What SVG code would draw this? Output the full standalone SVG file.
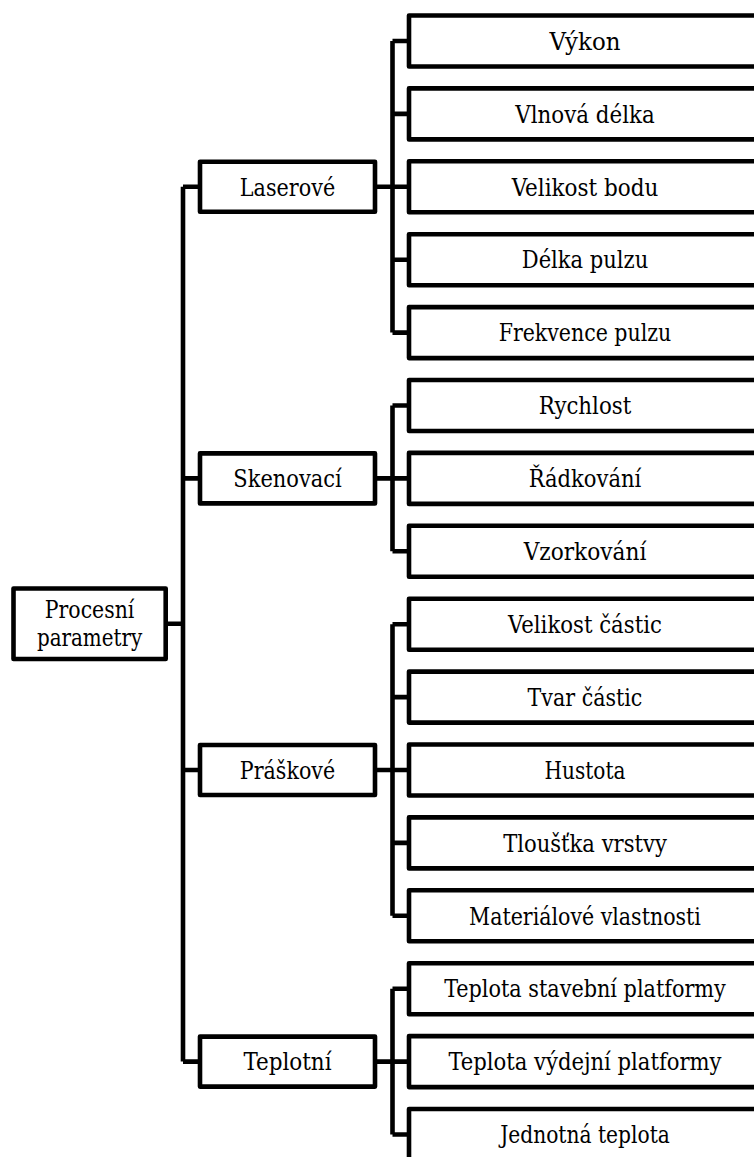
<svg xmlns="http://www.w3.org/2000/svg" width="754" height="1157" viewBox="0 0 754 1157">
<style>
.box{fill:#fff;stroke:#000;stroke-width:4.6;stroke-linejoin:round}
.con{fill:none;stroke:#000;stroke-width:4.6;stroke-linejoin:miter;stroke-linecap:butt}
.t{font-family:'DejaVu Serif Condensed','DejaVu Serif','Liberation Serif',serif;font-stretch:condensed;font-size:24px;fill:#000;text-anchor:middle}
</style>
<rect width="754" height="1157" fill="#fff"/>
<g id="connectors">
<path class="con" d="M165.7,623.7H183M183,186.8V1061.6M183,186.8H200M183,478.4H200M183,770H200M183,1061.6H200"/>
<path class="con" d="M375,186.8H392.5M392.5,41V332.6M392.5,41H409M392.5,113.9H409M392.5,186.8H409M392.5,259.7H409M392.5,332.6H409"/>
<path class="con" d="M375,478.4H392.5M392.5,405.5V551.3M392.5,405.5H409M392.5,478.4H409M392.5,551.3H409"/>
<path class="con" d="M375,770H392.5M392.5,624.2V915.8M392.5,624.2H409M392.5,697.1H409M392.5,770H409M392.5,842.9H409M392.5,915.8H409"/>
<path class="con" d="M375,1061.6H392.5M392.5,988.7V1134.5M392.5,988.7H409M392.5,1061.6H409M392.5,1134.5H409"/>
</g>
<g id="root"><rect class="box" x="13.5" y="588.5" width="152.2" height="70.5"/><text class="t" x="89.6" y="617.7" textLength="89.5" lengthAdjust="spacingAndGlyphs">Procesní</text><text class="t" x="89.6" y="645.5" textLength="105.4" lengthAdjust="spacingAndGlyphs">parametry</text></g>
<g id="laserove"><rect class="box" x="200" y="161.8" width="175" height="50"/><text class="t" x="287.5" y="195.5" textLength="95.3" lengthAdjust="spacingAndGlyphs">Laserové</text></g>
<g id="skenovaci"><rect class="box" x="200" y="453.4" width="175" height="50"/><text class="t" x="287.5" y="487.1" textLength="108.3" lengthAdjust="spacingAndGlyphs">Skenovací</text></g>
<g id="praskove"><rect class="box" x="200" y="745" width="175" height="50"/><text class="t" x="287.5" y="778.7" textLength="95.3" lengthAdjust="spacingAndGlyphs">Práškové</text></g>
<g id="teplotni"><rect class="box" x="200" y="1036.6" width="175" height="50"/><text class="t" x="287.5" y="1070.3" textLength="88.1" lengthAdjust="spacingAndGlyphs">Teplotní</text></g>
<g id="vykon"><rect class="box" x="409" y="15.5" width="360" height="51"/><text class="t" x="585" y="49.7" textLength="70.8" lengthAdjust="spacingAndGlyphs">Výkon</text></g>
<g id="vlnova"><rect class="box" x="409" y="88.4" width="360" height="51"/><text class="t" x="585" y="122.6" textLength="139.4" lengthAdjust="spacingAndGlyphs">Vlnová délka</text></g>
<g id="velikost-bodu"><rect class="box" x="409" y="161.3" width="360" height="51"/><text class="t" x="585" y="195.5" textLength="146.6" lengthAdjust="spacingAndGlyphs">Velikost bodu</text></g>
<g id="delka-pulzu"><rect class="box" x="409" y="234.2" width="360" height="51"/><text class="t" x="585" y="268.4" textLength="126.4" lengthAdjust="spacingAndGlyphs">Délka pulzu</text></g>
<g id="frekvence"><rect class="box" x="409" y="307.1" width="360" height="51"/><text class="t" x="585" y="341.3" textLength="172.6" lengthAdjust="spacingAndGlyphs">Frekvence pulzu</text></g>
<g id="rychlost"><rect class="box" x="409" y="380" width="360" height="51"/><text class="t" x="585" y="414.2" textLength="92.5" lengthAdjust="spacingAndGlyphs">Rychlost</text></g>
<g id="radkovani"><rect class="box" x="409" y="452.9" width="360" height="51"/><text class="t" x="585" y="487.1" textLength="112.7" lengthAdjust="spacingAndGlyphs">Řádkování</text></g>
<g id="vzorkovani"><rect class="box" x="409" y="525.8" width="360" height="51"/><text class="t" x="585" y="560" textLength="122.7" lengthAdjust="spacingAndGlyphs">Vzorkování</text></g>
<g id="velikost-castic"><rect class="box" x="409" y="598.7" width="360" height="51"/><text class="t" x="585" y="632.9" textLength="153.8" lengthAdjust="spacingAndGlyphs">Velikost částic</text></g>
<g id="tvar-castic"><rect class="box" x="409" y="671.6" width="360" height="51"/><text class="t" x="585" y="705.8" textLength="114.8" lengthAdjust="spacingAndGlyphs">Tvar částic</text></g>
<g id="hustota"><rect class="box" x="409" y="744.5" width="360" height="51"/><text class="t" x="585" y="778.7" textLength="80.9" lengthAdjust="spacingAndGlyphs">Hustota</text></g>
<g id="tloustka"><rect class="box" x="409" y="817.4" width="360" height="51"/><text class="t" x="585" y="851.6" textLength="163.7" lengthAdjust="spacingAndGlyphs">Tloušťka vrstvy</text></g>
<g id="materialove"><rect class="box" x="409" y="890.3" width="360" height="51"/><text class="t" x="585" y="924.5" textLength="231.8" lengthAdjust="spacingAndGlyphs">Materiálové vlastnosti</text></g>
<g id="teplota-stavebni"><rect class="box" x="409" y="963.2" width="360" height="51"/><text class="t" x="585" y="997.4" textLength="281.6" lengthAdjust="spacingAndGlyphs">Teplota stavební platformy</text></g>
<g id="teplota-vydejni"><rect class="box" x="409" y="1036.1" width="360" height="51"/><text class="t" x="585" y="1070.3" textLength="273" lengthAdjust="spacingAndGlyphs">Teplota výdejní platformy</text></g>
<g id="jednotna"><rect class="box" x="409" y="1109" width="360" height="51"/><text class="t" x="585" y="1143.2" textLength="169.7" lengthAdjust="spacingAndGlyphs">Jednotná teplota</text></g>
</svg>
